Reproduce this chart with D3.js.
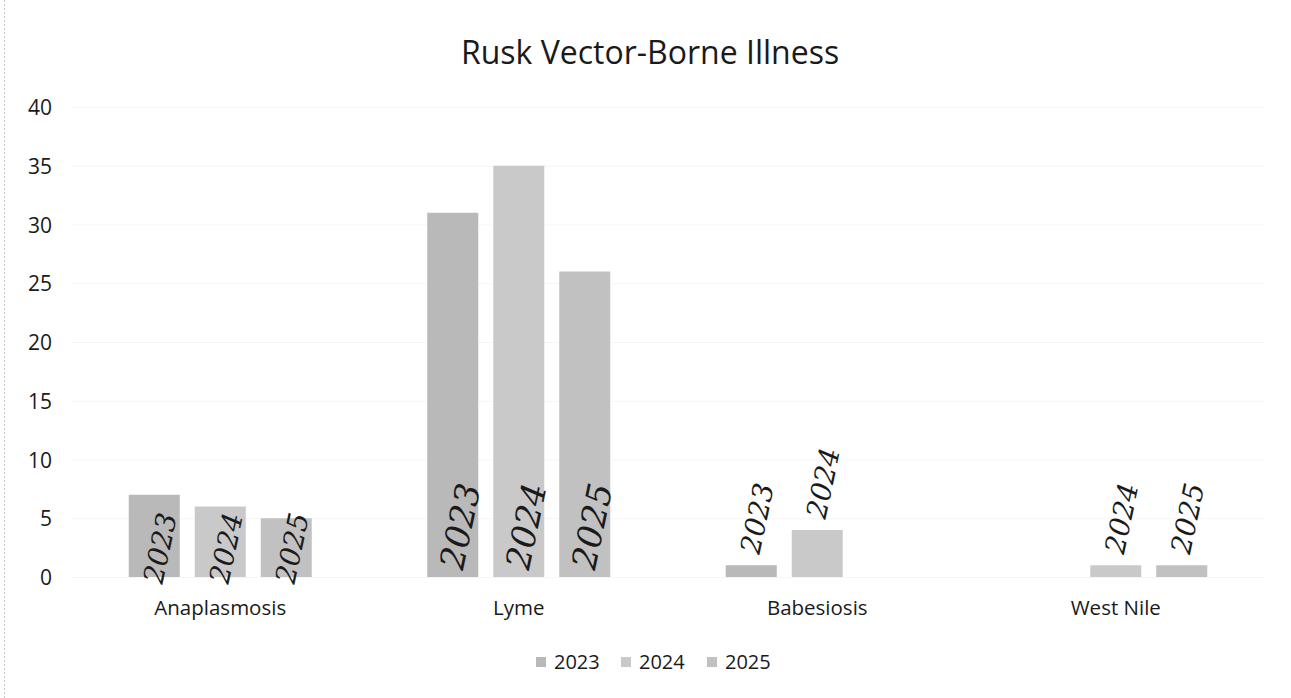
<!DOCTYPE html>
<html>
<head>
<meta charset="utf-8">
<script src="https://cdn.jsdelivr.net/npm/d3@7"></script>
<style>
  html, body { margin: 0; padding: 0; background: #fff; }
  svg { display: block; }
</style>
</head>
<body>
<svg id="chart" width="1291" height="698"></svg>
<script>
const title = "Rusk Vector-Borne Illness";
const categories = ["Anaplasmosis", "Lyme", "Babesiosis", "West Nile"];
const seriesNames = ["2023", "2024", "2025"];
const values2023 = [7, 31, 1, 0];
const values2024 = [6, 35, 4, 1];
const values2025 = [5, 26, 0, 1];
const yTicks = [0, 5, 10, 15, 20, 25, 30, 35, 40];
// handwritten annotations on the scanned page
const noteCategories = ["Anaplasmosis","Anaplasmosis","Anaplasmosis","Lyme","Lyme","Lyme","Babesiosis","Babesiosis","West Nile","West Nile"];
const noteSeries =     ["2023","2024","2025","2023","2024","2025","2023","2024","2024","2025"];

const seriesValues = [values2023, values2024, values2025];
const colors = ["#b9b9b9", "#c9c9c9", "#c1c1c1"];
const font = "'Open Sans', 'Noto Sans', sans-serif";

const svg = d3.select("#chart");

const plot = { left: 71, right: 1265, top: 107, bottom: 577 };

const x0 = d3.scaleBand().domain(categories).range([plot.left, plot.right]).paddingInner(0).paddingOuter(0);
const groupW = 183;
const x1 = d3.scaleBand().domain(seriesNames)
  .range([(x0.bandwidth() - groupW) / 2, (x0.bandwidth() + groupW) / 2])
  .paddingInner(0.227).paddingOuter(0);
const y = d3.scaleLinear().domain([0, 40]).range([plot.bottom, plot.top]);

// faint chart border (scan)
svg.append("line").attr("x1", 4.5).attr("x2", 4.5).attr("y1", 0).attr("y2", 698)
  .attr("stroke", "#c8c8c8").attr("stroke-dasharray", "2,2").attr("stroke-width", 1);

// gridlines (very faint on scan)
svg.append("g").selectAll("line").data(yTicks).join("line")
  .attr("x1", plot.left).attr("x2", plot.right)
  .attr("y1", d => y(d) + 0.5).attr("y2", d => y(d) + 0.5)
  .attr("stroke", "#f5f5f5").attr("stroke-width", 1);

// title
svg.append("text").attr("x", 650).attr("y", 64).attr("text-anchor", "middle")
  .attr("font-family", font).attr("font-size", 32).attr("fill", "#1a1a1a").text(title);

// y axis
const yAxis = d3.axisLeft(y).tickValues(yTicks).tickSize(0).tickPadding(0);
const yg = svg.append("g").attr("transform", `translate(52,0)`).call(yAxis);
yg.select(".domain").remove();
yg.selectAll("text").attr("font-family", font).attr("font-size", 21).attr("fill", "#1a1a1a").attr("dy", "0.36em");

// x axis
const xAxis = d3.axisBottom(x0).tickSize(0).tickPadding(0);
const xg = svg.append("g").attr("transform", `translate(0,${plot.bottom})`).call(xAxis);
xg.select(".domain").remove();
xg.selectAll("text").attr("font-family", font).attr("font-size", 20.5).attr("fill", "#1a1a1a").attr("dy", "1.85em");

// bars
const rows = [];
categories.forEach((c, i) => seriesNames.forEach((s, j) => rows.push({ c, s, j, v: seriesValues[j][i] })));
svg.append("g").selectAll("rect").data(rows.filter(d => d.v > 0)).join("rect")
  .attr("x", d => x0(d.c) + x1(d.s))
  .attr("y", d => y(d.v))
  .attr("width", x1.bandwidth())
  .attr("height", d => y(0) - y(d.v))
  .attr("fill", d => colors[d.j]);

// handwritten notes
svg.append("g").selectAll("text").data(noteCategories.map((c, k) => ({ c, s: noteSeries[k], v: seriesValues[seriesNames.indexOf(noteSeries[k])][categories.indexOf(c)] })))
  .join("text")
  .attr("transform", d => {
    const big = d.v >= 20;
    const cx = x0(d.c) + x1(d.s) + x1.bandwidth() / 2 + (big ? 10 : 8);
    const by = d.v >= 5 ? (big ? y(0) - 6 : y(0) + 8) : y(d.v) - 10;
    return `translate(${cx},${by}) rotate(-78)`;
  })
  .attr("font-family", "'DejaVu Serif', serif").attr("font-style", "italic")
  .attr("font-size", d => d.v >= 20 ? 34 : 28).attr("fill", "#1a1a1a").text(d => d.s);

// legend
const legendX = [536, 621, 707];
const lg = svg.append("g").selectAll("g").data(seriesNames).join("g")
  .attr("transform", (d, i) => `translate(${legendX[i]},662)`);
lg.append("rect").attr("x", 0).attr("y", -5).attr("width", 10).attr("height", 10).attr("fill", (d, i) => colors[i]);
lg.append("text").attr("x", 18).attr("y", 0).attr("dy", "0.36em")
  .attr("font-family", font).attr("font-size", 20).attr("fill", "#1a1a1a").text(d => d);
</script>
</body>
</html>
